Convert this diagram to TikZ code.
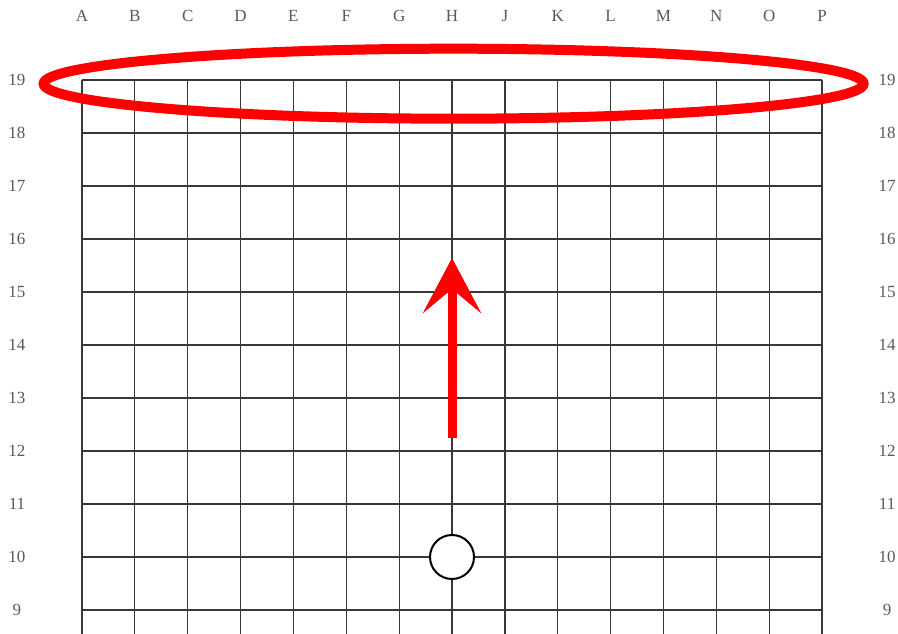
\documentclass[tikz,border=0pt]{standalone}
\usepackage{fontspec}
\setmainfont{Liberation Serif}
\usetikzlibrary{arrows.meta}
\begin{document}
\begin{tikzpicture}[x=52.86pt,y=53pt,>=stealth,font=\fontsize{17}{20}\selectfont,
	gridline/.style={line width=1.3pt,black!78},
	coord/.style={text=black!65},
	stone/.style={circle,draw,fill=white,line width=2pt,minimum size=44pt,inner sep=0pt},
	redmark/.style={red,line width=10pt}]
	\useasboundingbox (-1.551,-10.453) rectangle (15.437,1.509);
	\foreach \i in {0,...,14} \draw[gridline] (\i,0)--(\i,-10.6);
	\foreach \j in {0,...,10} \draw[gridline] (0,-\j)--(14,-\j);
	\foreach \l [count=\i from 0] in {A,B,C,D,E,F,G,H,J,K,L,M,N,O,P}
		\node[coord] (col\l) at (\i,1.208) {\l};
	\foreach \r [evaluate=\r as \y using \r-19] in {19,18,...,9}{
		\node[coord] (left\r) at (-1.23,\y) {\r};
		\node[coord] (right\r) at (15.23,\y) {\r};}
	\node[stone] (h10) at (7,-9) {};
	\draw[redmark] (7.03,-0.07) ellipse [x radius=410pt,y radius=35pt];
	\coordinate (foot) at (7,-6.755);
	\coordinate (tip) at (7,-3.358);
	\draw[redmark,line width=9pt,-{Stealth[length=55pt,width=58pt,inset=24pt]}] (foot)--(tip);
\end{tikzpicture}
\end{document}
